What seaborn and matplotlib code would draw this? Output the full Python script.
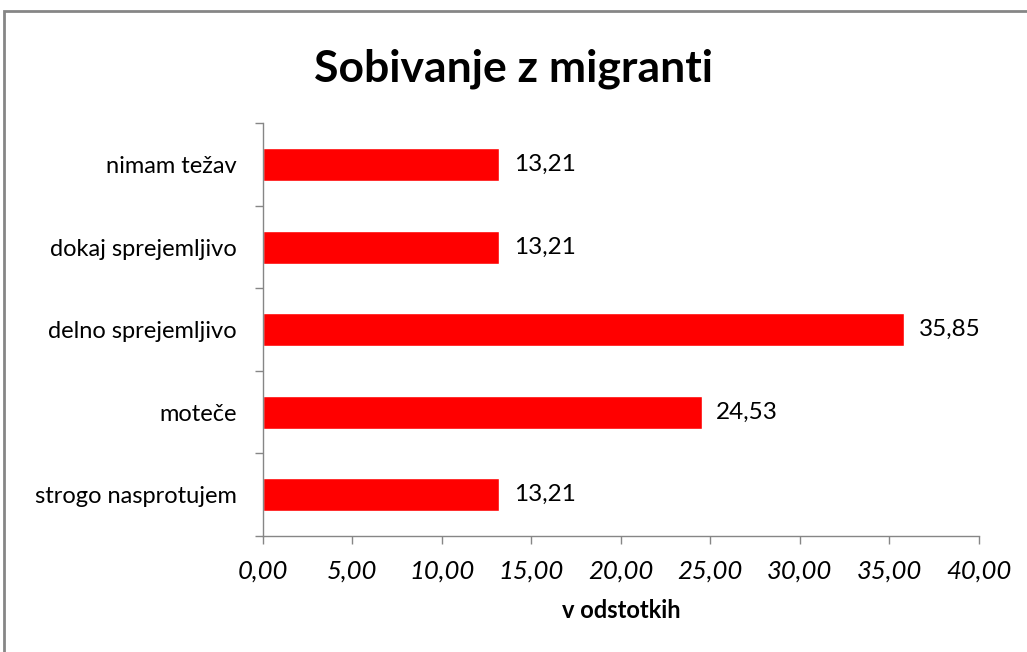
import pandas as pd
import matplotlib.pyplot as plt
import seaborn as sns
from matplotlib.patches import Rectangle
from matplotlib.ticker import FixedLocator, FuncFormatter

# Data (top to bottom as in the chart)
categories = ["nimam težav", "dokaj sprejemljivo", "delno sprejemljivo", "moteče", "strogo nasprotujem"]
values = [13.21, 13.21, 35.85, 24.53, 13.21]
x_ticks = [0, 5, 10, 15, 20, 25, 30, 35, 40]

df = pd.DataFrame({"odgovor": categories, "odstotek": values})

sns.set_style("white")
plt.rcParams['font.family'] = ['Lato', 'DejaVu Sans']
plt.rcParams['text.color'] = 'black'
plt.rcParams['xtick.labelcolor'] = 'black'
plt.rcParams['ytick.labelcolor'] = 'black'
plt.rcParams['axes.labelcolor'] = 'black'

fig = plt.figure(figsize=(10.27, 6.52), dpi=100)
ax = fig.add_axes([0.256, 0.178, 0.697, 0.633])

sns.barplot(data=df, x="odstotek", y="odgovor", orient="h", color="#FF0000",
            width=0.4, saturation=1, ax=ax)

# value labels with decimal comma
for i, v in enumerate(values):
    ax.text(v + 0.8, i, f"{v:.2f}".replace(".", ","), va="center", ha="left", fontsize=17.5)

ax.set_xlim(0, 40)
ax.set_ylim(len(categories) - 0.5, -0.5)
ax.xaxis.set_major_locator(FixedLocator(x_ticks))
ax.xaxis.set_major_formatter(FuncFormatter(lambda x, p: f"{x:.2f}".replace(".", ",")))
for lab in ax.get_xticklabels():
    lab.set_fontstyle("italic")
ax.tick_params(axis="x", labelsize=18.5, length=6, width=1, color="#868686", direction="out",
               bottom=True, pad=11, labelcolor="black")
ax.tick_params(axis="y", which="major", labelsize=17, length=0, pad=19, labelcolor="black")
ax.yaxis.set_minor_locator(FixedLocator([i - 0.5 for i in range(len(categories) + 1)]))
ax.tick_params(axis="y", which="minor", length=6, width=1, color="#868686", direction="out", left=True)

for s in ["top", "right"]:
    ax.spines[s].set_visible(False)
for s in ["left", "bottom"]:
    ax.spines[s].set_color("#868686")
    ax.spines[s].set_linewidth(1)

ax.set_ylabel("")
ax.set_xlabel("v odstotkih", fontsize=17, fontweight="bold", labelpad=12, color="black")

fig.suptitle("Sobivanje z migranti", fontsize=32, fontweight="bold", y=0.925, color="black")

# outer chart border
fig.patches.append(Rectangle((0.004, -0.01), 1.0, 0.993, transform=fig.transFigure,
                             fill=False, edgecolor="#868686", linewidth=2))

fig.savefig("out.png", dpi=100)
